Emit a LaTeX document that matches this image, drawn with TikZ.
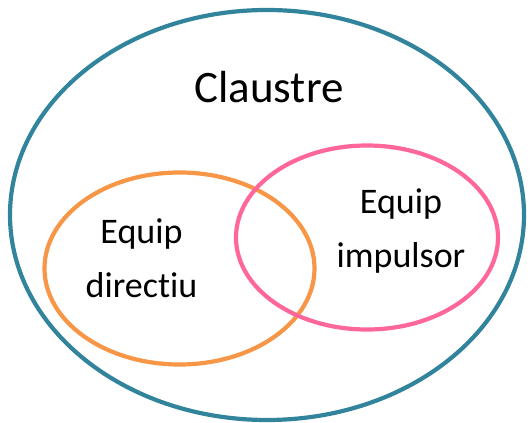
\documentclass[tikz,border=0pt]{standalone}
\usepackage{fontspec}
\setmainfont{Carlito}[Ligatures=NoCommon]
\definecolor{outerblue}{HTML}{31849B}
\definecolor{teamorange}{HTML}{F79646}
\definecolor{teampink}{HTML}{FF6699}
\begin{document}
\begin{tikzpicture}[x=1pt,y=-1pt,
  ring/.style={line width=4.2pt},
  lbl/.style={inner sep=0pt,align=center,font=\fontsize{36}{54}\selectfont}]
\useasboundingbox (0,0) rectangle (531,423);
\draw[ring,outerblue] (267,215) ellipse [x radius=257, y radius=205];
\draw[ring,teamorange] (179.5,268.5) ellipse [x radius=135, y radius=96];
\draw[ring,teampink] (367,237.5) ellipse [x radius=131, y radius=92];
\node[inner sep=0pt,anchor=base,font=\fontsize{45}{54}\selectfont] (claustre) at (269,102) {Claustre};
\node[lbl,anchor=base] (directiu) at (141.5,297) {Equip\\directiu};
\node[lbl,anchor=base] (impulsor) at (401,267) {Equip\\impulsor};
\end{tikzpicture}
\end{document}
